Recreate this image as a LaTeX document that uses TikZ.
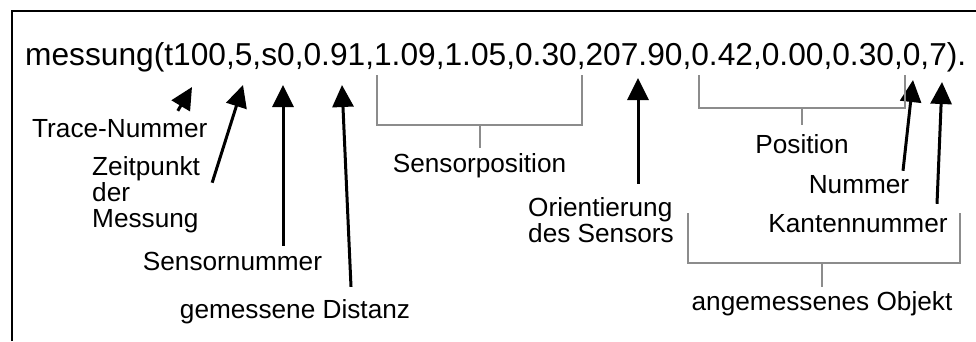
\documentclass[tikz,border=0pt]{standalone}
\usepackage{fontspec}
\setmainfont{Liberation Sans}
\usetikzlibrary{arrows.meta,calc}
\definecolor{bracketgray}{HTML}{8C8C8C}

\begin{document}
\begin{tikzpicture}[x=1pt, y=-1pt,
  lbl/.style={inner sep=0pt, font=\fontsize{26.2}{25.8}\selectfont, align=left},
  arr/.style={-{Triangle[length=22pt, width=21pt]}, line width=3pt},
  bracket/.style={line width=2pt, bracketgray},
  frameline/.style={line width=2.6pt}
]
  \useasboundingbox (0,0) rectangle (976,341);
  \draw[frameline] (12,341) -- (12,11) -- (976,11);

  % the record
  \node[anchor=base west, inner sep=0pt, font=\fontsize{31.7}{38}\selectfont] (msg) at (25,65)
    {messung(t100,5,s0,0.91,1.09,1.05,0.30,207.90,0.42,0.00,0.30,0,7).};

  % points in the record
  \coordinate (pTrace) at (192,87);
  \coordinate (pZeit) at (243,85);
  \coordinate (pSens) at (283,85);
  \coordinate (pDist) at (342,85);
  \coordinate (pOrient) at (638,78);
  \coordinate (pNr) at (913,80);
  \coordinate (pKante) at (942,82);

  % labels
  \node[lbl, anchor=base west] (trace) at (32,137) {Trace-Nummer};
  \node[lbl, anchor=north west] (zeit) at (92,156.5) {Zeitpunkt\\der\\Messung};
  \node[lbl, anchor=base] (sensnr) at (232.5,270) {Sensornummer};
  \node[lbl, anchor=base] (dist) at (295,318) {gemessene Distanz};
  \node[lbl, anchor=base] (spos) at (479.5,172) {Sensorposition};
  \node[lbl, anchor=north west, font=\fontsize{26.2}{23.3}\selectfont] (orient) at (528,197.5) {Orientierung\\des Sensors};
  \node[lbl, anchor=base] (pos) at (802,153) {Position};
  \node[lbl, anchor=base] (nummer) at (859,193) {Nummer};
  \node[lbl, anchor=base] (kante) at (858,232) {Kantennummer};
  \node[lbl, anchor=base] (objekt) at (822,310) {angemessenes Objekt};

  % arrows
  \draw[arr] ([xshift=58pt, yshift=8pt]trace.north) -- (pTrace);
  \draw[arr] ([xshift=12pt, yshift=12pt]zeit.east) -- (pZeit);
  \draw[arr] ($(sensnr.north -| pSens)+(0,-6)$) -- (pSens);
  \draw[arr] ([xshift=56pt, yshift=12pt]dist.north) -- (pDist);
  \draw[arr] ($(orient.north -| pOrient)+(0,-14)$) -- (pOrient);
  \draw[arr] ([xshift=44pt, yshift=4pt]nummer.north) -- (pNr);
  \draw[arr] ([xshift=79pt, yshift=10pt]kante.north) -- (pKante);

  % brackets
  \coordinate (spL) at (377,75);
  \coordinate (spR) at (582,75);
  \draw[bracket] (spL) |- (582,125) -- (spR);
  \draw[bracket, shorten >=5pt] (spos.north |- 0,125) -- (spos.north);

  \coordinate (posL) at (699,75);
  \coordinate (posR) at (905,75);
  \draw[bracket] (posL) |- (905,108) -- (posR);
  \draw[bracket, shorten >=9pt] (pos.north |- 0,108) -- (pos.north);

  \coordinate (objL) at (688,213);
  \coordinate (objR) at (960,213);
  \draw[bracket] (objL) |- (960,263) -- (objR);
  \draw[bracket, shorten >=4pt] (objekt.north |- 0,263) -- (objekt.north);
\end{tikzpicture}
\end{document}
